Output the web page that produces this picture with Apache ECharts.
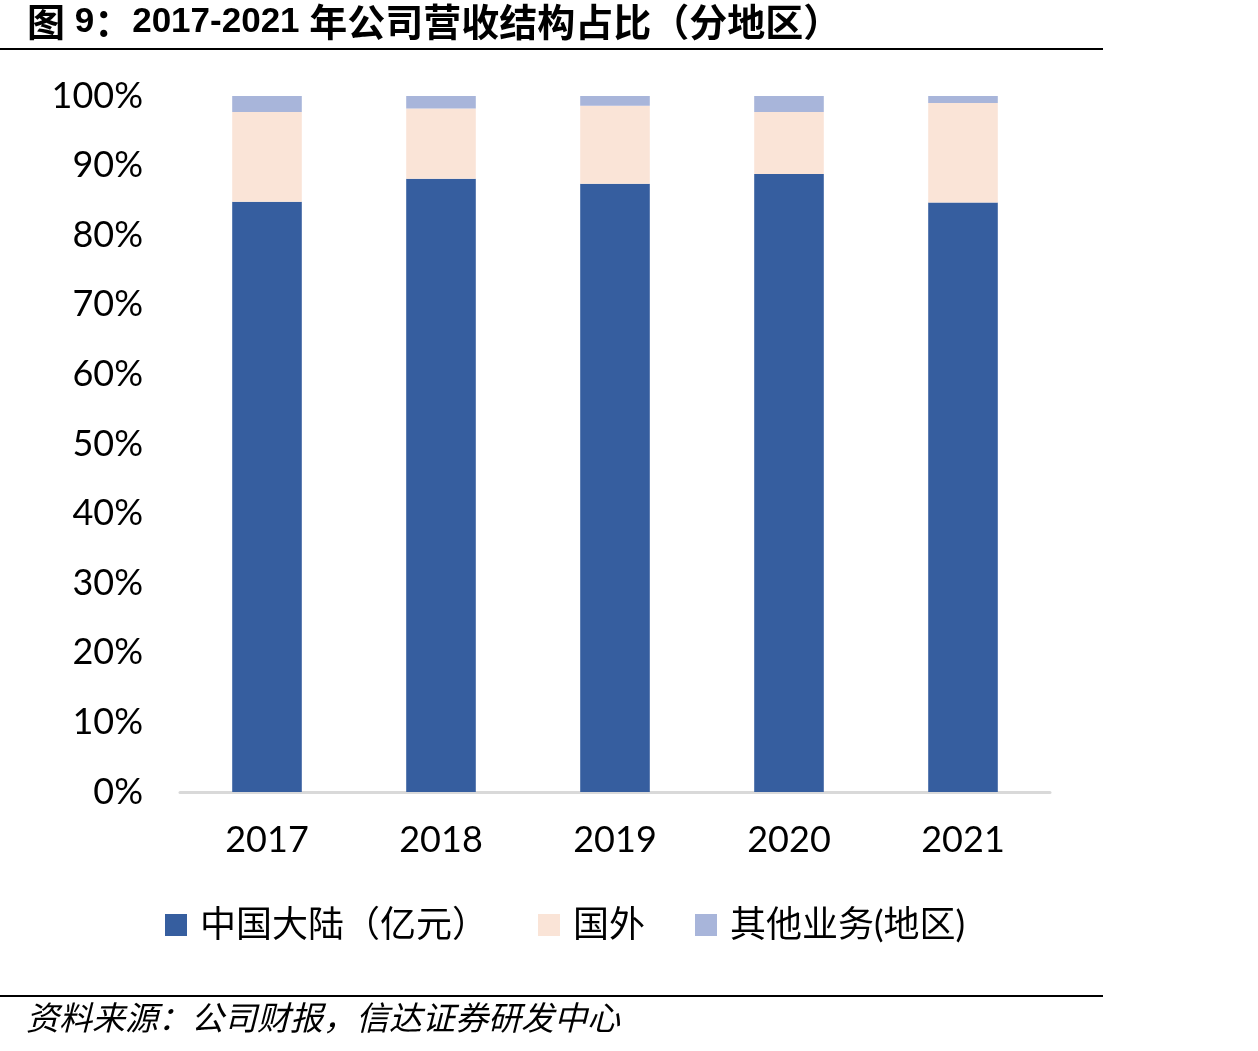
<!DOCTYPE html>
<html><head><meta charset="utf-8">
<script src="https://cdn.jsdelivr.net/npm/echarts@6/dist/echarts.min.js"></script>
<style>html,body{margin:0;padding:0;background:#fff}#c{width:1258px;height:1051px}</style>
</head><body><div id="c"></div>
<script>
const categories = ['2017','2018','2019','2020','2021'];
const mainland = [84.8, 88.1, 87.4, 88.8, 84.7];
const overseas = [12.9, 10.1, 11.2, 8.9, 14.3];
const other = [2.3, 1.8, 1.4, 2.3, 1.0];
const seriesNames = ['中国大陆（亿元）', '国外', '其他业务(地区)'];
const yTicks = [0,10,20,30,40,50,60,70,80,90,100];

const font = 'Lato, "Noto Sans CJK SC", sans-serif';
const chart = echarts.init(document.getElementById('c'));
chart.setOption({
  animation: false,
  backgroundColor: '#fff',
  title: {
    text: '{c|图} {n|9}{c|：}{n|2017-2021} {c|年公司营收结构占比（分地区）}',
    left: 22, top: -2,
    textStyle: {
      fontFamily: '"Liberation Sans", "Noto Sans CJK SC", sans-serif', fontWeight: 'bold', fontSize: 35, color: '#000',
      rich: {
        c: {fontFamily: '"Noto Sans CJK SC", sans-serif', fontWeight: 'bold', fontSize: 38, color: '#000'},
        n: {fontFamily: '"Liberation Sans", sans-serif', fontWeight: 'bold', fontSize: 35, color: '#000'}
      }
    }
  },
  graphic: [
    {type: 'line', shape: {x1: 0, y1: 49, x2: 1103, y2: 49}, style: {stroke: '#000', lineWidth: 2}},
    {type: 'line', shape: {x1: 0, y1: 996, x2: 1103, y2: 996}, style: {stroke: '#000', lineWidth: 2}},
    {type: 'text', left: 26, top: 1001, style: {text: '资料来源：公司财报，信达证券研发中心', font: 'italic 33px "Noto Sans CJK SC", sans-serif', fill: '#000'}}
  ],
  grid: {left: 180, right: 208, top: 96, bottom: 259, containLabel: false},
  legend: {
    data: seriesNames,
    top: 902, left: 160,
    itemWidth: 22, itemHeight: 22, itemGap: 50,
    icon: 'rect',
    textStyle: {fontFamily: font, fontSize: 36, color: '#000', padding: [0,0,0,8]}
  },
  xAxis: {
    type: 'category', data: categories,
    axisLine: {lineStyle: {color: '#D9D9D9', width: 3}},
    axisTick: {show: false},
    axisLabel: {fontFamily: font, fontSize: 36, color: '#000', margin: 30}
  },
  yAxis: {
    type: 'value', min: 0, max: 100, interval: 10,
    axisLine: {show: false}, axisTick: {show: false},
    splitLine: {show: false},
    axisLabel: {fontFamily: font, fontSize: 36, color: '#000', margin: 37, formatter: v => v + '%'}
  },
  series: [
    {name: seriesNames[0], type: 'bar', stack: 's', data: mainland, barWidth: '40%', itemStyle: {color: '#365E9F'}},
    {name: seriesNames[1], type: 'bar', stack: 's', data: overseas, itemStyle: {color: '#FAE4D7'}},
    {name: seriesNames[2], type: 'bar', stack: 's', data: other, itemStyle: {color: '#A8B5DA'}}
  ]
});
</script></body></html>
